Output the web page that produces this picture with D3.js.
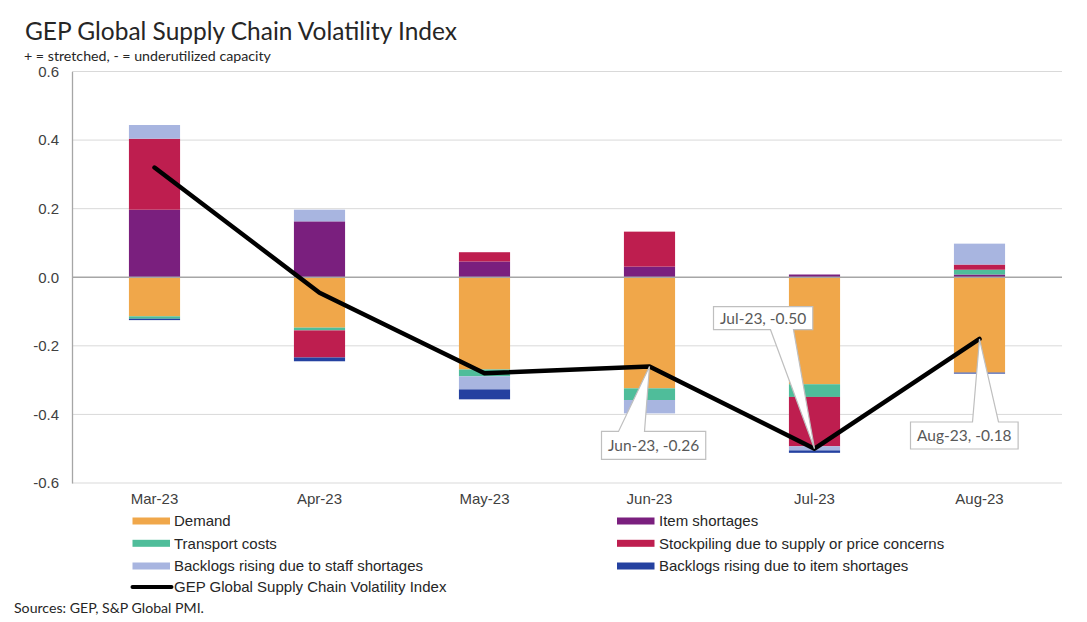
<!DOCTYPE html>
<html>
<head>
<meta charset="utf-8">
<script src="https://cdn.jsdelivr.net/npm/d3@7/dist/d3.min.js"></script>
<style>
  html, body { margin: 0; padding: 0; background: #fff; }
  svg { display: block; }
</style>
</head>
<body>
<svg id="chart" width="1087" height="622"></svg>
<script>
// ---- data ----
const months = ["Mar-23", "Apr-23", "May-23", "Jun-23", "Jul-23", "Aug-23"];
const demand        = [-0.114, -0.147, -0.269, -0.324, -0.312, -0.278];
const itemShortages = [ 0.197,  0.163,  0.046,  0.031,  0.008,  0.008];
const transport     = [-0.007, -0.008, -0.020, -0.034, -0.037,  0.014];
const stockpiling   = [ 0.207, -0.079,  0.027,  0.102, -0.144,  0.015];
const staffBacklogs = [ 0.040,  0.034, -0.038, -0.039, -0.012,  0.061];
const itemBacklogs  = [-0.004, -0.011, -0.029,  0.000, -0.007, -0.003];
const indexValues   = [ 0.32,  -0.045, -0.28,  -0.26,  -0.50,  -0.18];
const yTicks = [-0.6, -0.4, -0.2, 0.0, 0.2, 0.4, 0.6];
const seriesNames = [
  "Demand", "Item shortages", "Transport costs",
  "Stockpiling due to supply or price concerns",
  "Backlogs rising due to staff shortages", "Backlogs rising due to item shortages"
];
const lineName = "GEP Global Supply Chain Volatility Index";
const labelledMonths = ["Jun-23", "Jul-23", "Aug-23"];

// ---- styles ----
const colors = ["#F0A74A", "#7A1F7E", "#4FBD9A", "#BE1E4F", "#A8B5E0", "#2441A0"];
const seriesArrays = [demand, itemShortages, transport, stockpiling, staffBacklogs, itemBacklogs];

const svg = d3.select("#chart");
const pLeft = 72, pRight = 1062, pTop = 71.5, pBottom = 483;

const x = d3.scaleBand().domain(months).range([pLeft, pRight]).paddingInner(0.69).paddingOuter(0.345);
const y = d3.scaleLinear().domain([-0.6, 0.6]).range([pBottom, pTop]);

const hyphenFmt = f => v => d3.format(f)(v).replace("\u2212", "-");
const fmt1 = hyphenFmt(".1f"), fmt2 = hyphenFmt(".2f");

// table for the stack
const table = months.map((m, i) => {
  const row = { month: m };
  seriesNames.forEach((s, j) => row[s] = seriesArrays[j][i]);
  return row;
});
const stacker = d3.stack().keys(seriesNames).offset(d3.stackOffsetDiverging);
const stacked = stacker(table);

// title
function fitText(sel, target) {
  let fs = parseFloat(sel.attr("font-size"));
  for (let k = 0; k < 3; k++) {
    const w = sel.node().getComputedTextLength();
    if (w > 0) { fs = fs * target / w; sel.attr("font-size", fs); }
  }
}
const title = svg.append("text").attr("x", 25).attr("y", 39.5)
  .attr("font-family", "Lato, 'Open Sans', sans-serif").attr("font-size", 22)
  .attr("fill", "#262626").text("GEP Global Supply Chain Volatility Index");
fitText(title, 432);
const sub = svg.append("text").attr("x", 24).attr("y", 60.5)
  .attr("font-family", "Lato, 'Open Sans', sans-serif").attr("font-size", 13)
  .attr("fill", "#262626").text("+ = stretched, - = underutilized capacity");
fitText(sub, 247);

// gridlines
svg.append("g").selectAll("line").data(yTicks.filter(t => t !== 0)).join("line")
  .attr("x1", pLeft).attr("x2", pRight)
  .attr("y1", d => y(d)).attr("y2", d => y(d))
  .attr("stroke", "#D9D9D9").attr("stroke-width", 1);

// y axis
const yAxis = d3.axisLeft(y).tickValues(yTicks).tickFormat(fmt1).tickSize(0).tickPadding(13);
const ga = svg.append("g").attr("transform", `translate(${pLeft},0)`).call(yAxis);
ga.select(".domain").attr("stroke", "#A6A6A6").attr("stroke-width", 1.3);
ga.selectAll("text").attr("font-family", "'Liberation Sans', Arial, sans-serif")
  .attr("font-size", 15).attr("fill", "#404040");

// bars
svg.append("g").selectAll("g").data(stacked).join("g")
  .attr("fill", (d, i) => colors[i])
  .selectAll("rect").data(d => d).join("rect")
  .attr("x", d => x(d.data.month))
  .attr("width", x.bandwidth())
  .attr("y", d => y(Math.max(d[0], d[1])))
  .attr("height", d => Math.abs(y(d[0]) - y(d[1])));

// zero line
svg.append("line").attr("x1", pLeft).attr("x2", pRight).attr("y1", y(0)).attr("y2", y(0))
  .attr("stroke", "#A6A6A6").attr("stroke-width", 1.5);

// x axis labels
const xAxis = d3.axisBottom(x).tickSize(0).tickPadding(0);
const gx = svg.append("g").attr("transform", `translate(0,${pBottom + 10})`).call(xAxis);
gx.select(".domain").remove();
gx.selectAll("text").attr("font-family", "'Liberation Sans', Arial, sans-serif")
  .attr("font-size", 15).attr("fill", "#404040").attr("dy", "0.75em");

// index line
const cx = m => x(m) + x.bandwidth() / 2;
const line = d3.line().x((d, i) => cx(months[i])).y(d => y(d));
svg.append("path").datum(indexValues).attr("d", line)
  .attr("fill", "none").attr("stroke", "#000").attr("stroke-width", 4.5)
  .attr("stroke-linejoin", "round").attr("stroke-linecap", "round");

// callouts (layout: box offset from point, pointer base positions along the box edge)
const calloutLayout = {
  "Jun-23": { dx: -48, dy: 65, h: 28, side: "top", b1: 17, b2: 43 },
  "Jul-23": { dx: -101, dy: -142, h: 23, side: "bottom", b1: 57, b2: 80 },
  "Aug-23": { dx: -69, dy: 83, h: 27, side: "top", b1: 62, b2: 88 }
};
const cg = svg.append("g");
labelledMonths.forEach(m => {
  const i = months.indexOf(m);
  const px = cx(m), py = y(indexValues[i]);
  const L = calloutLayout[m];
  const g = cg.append("g");
  const path = g.append("path");
  const t = g.append("text").attr("font-family", "Lato, 'Open Sans', sans-serif")
    .attr("font-size", 15.5).attr("fill", "#595959").attr("text-anchor", "middle")
    .text(`${m}, ${fmt2(indexValues[i])}`);
  const w = t.node().getComputedTextLength() + 13;
  const bx = px + L.dx, by = py + L.dy, bh = L.h;
  t.attr("x", bx + w / 2).attr("y", by + bh / 2).attr("dy", "0.36em");
  let d;
  if (L.side === "top") {
    d = `M${bx},${by} H${bx + L.b1} L${px},${py} L${bx + L.b2},${by} H${bx + w} V${by + bh} H${bx} Z`;
  } else {
    d = `M${bx},${by} H${bx + w} V${by + bh} H${bx + L.b2} L${px},${py} L${bx + L.b1},${by + bh} H${bx} Z`;
  }
  path.attr("d", d).attr("fill", "#fff").attr("stroke", "#BFBFBF").attr("stroke-width", 1.2);
});

// legend
const legendRows = [521, 543.3, 566, 587];
const legendCols = [{ sx: 132.5, tx: 174 }, { sx: 617, tx: 659 }];
const lg = svg.append("g").attr("font-family", "'Liberation Sans', Arial, sans-serif")
  .attr("font-size", 15).attr("fill", "#262626");
seriesNames.forEach((s, i) => {
  const col = legendCols[i % 2], ry = legendRows[Math.floor(i / 2)];
  lg.append("rect").attr("x", col.sx).attr("y", ry - 3.5).attr("width", 37.5).attr("height", 7)
    .attr("fill", colors[i]);
  lg.append("text").attr("x", col.tx).attr("y", ry).attr("dy", "0.35em").text(s);
});
lg.append("line").attr("x1", 132.5).attr("x2", 171.5).attr("y1", legendRows[3]).attr("y2", legendRows[3])
  .attr("stroke", "#000").attr("stroke-width", 4).attr("stroke-linecap", "round");
lg.append("text").attr("x", 174).attr("y", legendRows[3]).attr("dy", "0.35em").text(lineName);

// source
const src = svg.append("text").attr("x", 14).attr("y", 613)
  .attr("font-family", "Lato, 'Open Sans', sans-serif").attr("font-size", 13)
  .attr("fill", "#262626").text("Sources: GEP, S&P Global PMI.");
fitText(src, 190);
</script>
</body>
</html>
